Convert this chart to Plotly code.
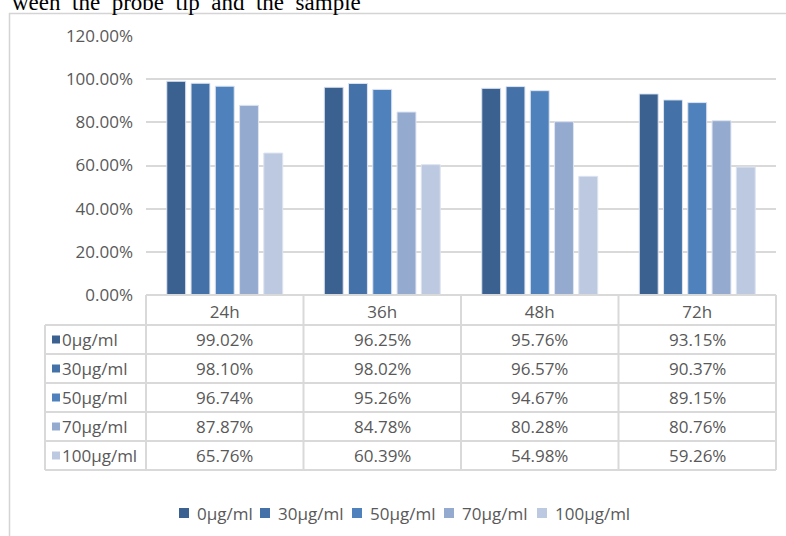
import plotly.graph_objects as go

# Time points and treatment concentrations
times = ["24h", "36h", "48h", "72h"]
concentrations = ["0μg/ml", "30μg/ml", "50μg/ml", "70μg/ml", "100μg/ml"]

# Cell viability (fraction) per concentration, one value per time point
viab_0 = [0.9902, 0.9625, 0.9576, 0.9315]
viab_30 = [0.9810, 0.9802, 0.9657, 0.9037]
viab_50 = [0.9674, 0.9526, 0.9467, 0.8915]
viab_70 = [0.8787, 0.8478, 0.8028, 0.8076]
viab_100 = [0.6576, 0.6039, 0.5498, 0.5926]

series = [viab_0, viab_30, viab_50, viab_70, viab_100]
colors = ["#3B6190", "#4472A8", "#4F81BD", "#94ABCF", "#BDC9E1"]

W, H = 786, 536
PL, PR, PT, PB = 146, 776, 36, 295          # plot area in pixels
TEXT = "#595959"
GRID = "#D9D9D9"
FONT = "Open Sans"
FS = 17


def xp(px):
    return (px - PL) / (PR - PL)


def yp(py):
    return (PB - py) / (PB - PT)


fig = go.Figure()
for name, vals, col in zip(concentrations, series, colors):
    fig.add_trace(go.Bar(
        x=times, y=vals, name=name,
        marker=dict(color=col, line=dict(color="#DDE4F0", width=1)),
    ))

shapes = []
annotations = []

# outer frame of the chart object
shapes.append(dict(type="line", xref="paper", yref="paper",
                   x0=xp(9), x1=xp(800), y0=yp(13.5), y1=yp(13.5),
                   line=dict(color="#D4D4D4", width=1.5)))
shapes.append(dict(type="line", xref="paper", yref="paper",
                   x0=xp(9.5), x1=xp(9.5), y0=yp(13), y1=yp(560),
                   line=dict(color="#D4D4D4", width=1.5)))

# data table beneath the axis
row_edges = [295, 325, 354, 383, 412, 441, 470]
col_edges = [PL + i * (PR - PL) / len(times) for i in range(len(times) + 1)]
left_edge = 45
tl = dict(color=GRID, width=2)
for i, ry in enumerate(row_edges):
    x0 = PL if i == 0 else left_edge
    shapes.append(dict(type="line", xref="paper", yref="paper",
                       x0=xp(x0), x1=xp(PR), y0=yp(ry), y1=yp(ry), line=tl))
for cx in col_edges:
    shapes.append(dict(type="line", xref="paper", yref="paper",
                       x0=xp(cx), x1=xp(cx), y0=yp(row_edges[0]), y1=yp(row_edges[-1]), line=tl))
shapes.append(dict(type="line", xref="paper", yref="paper",
                   x0=xp(left_edge), x1=xp(left_edge), y0=yp(row_edges[1]), y1=yp(row_edges[-1]), line=tl))

for r, (name, vals, col) in enumerate(zip(concentrations, series, colors)):
    top, bot = row_edges[r + 1], row_edges[r + 2]
    mid = (top + bot) / 2
    shapes.append(dict(type="rect", xref="paper", yref="paper",
                       x0=xp(52), x1=xp(60), y0=yp(mid - 4), y1=yp(mid + 4),
                       fillcolor=col, line=dict(width=0)))
    annotations.append(dict(xref="paper", yref="paper", x=xp(60), y=yp(mid),
                            xanchor="left", yanchor="middle", showarrow=False,
                            text=name, font=dict(family=FONT, size=FS, color=TEXT)))
    for t, v in zip(times, vals):
        annotations.append(dict(xref="x", yref="paper", x=t, y=yp(mid),
                                xanchor="center", yanchor="middle", showarrow=False,
                                text=f"{v * 100:.2f}%",
                                font=dict(family=FONT, size=FS, color=TEXT)))

# legend row below the table: swatch + label per series
legend_x = [179, 260, 352, 444, 537]
legend_y = 513
for lx, name, col in zip(legend_x, concentrations, colors):
    shapes.append(dict(type="rect", xref="paper", yref="paper",
                       x0=xp(lx), x1=xp(lx + 10), y0=yp(legend_y - 5), y1=yp(legend_y + 5),
                       fillcolor=col, line=dict(width=0)))
    annotations.append(dict(xref="paper", yref="paper", x=xp(lx + 16), y=yp(legend_y),
                            xanchor="left", yanchor="middle", showarrow=False,
                            text=name, font=dict(family=FONT, size=FS, color=TEXT)))

# caption line of the surrounding document
annotations.append(dict(xref="paper", yref="paper", x=xp(10), y=yp(17),
                        xanchor="left", yanchor="bottom", showarrow=False,
                        text="ween  the  probe  tip  and  the  sample",
                        font=dict(family="Liberation Serif", size=23, color="#000000")))

fig.update_layout(
    width=W, height=H,
    margin=dict(l=PL, r=W - PR, t=PT, b=H - PB, pad=0),
    paper_bgcolor="white", plot_bgcolor="white",
    barmode="group", bargap=0.23, bargroupgap=0.22,
    font=dict(family=FONT, size=FS, color=TEXT),
    shapes=shapes, annotations=annotations,
    showlegend=False,
)
fig.update_xaxes(showgrid=False, showline=False, zeroline=False, ticks="",
                 tickfont=dict(family=FONT, size=FS, color=TEXT),
                 ticklabelstandoff=5)
fig.update_yaxes(range=[0, 1.2], dtick=0.2, tickformat=".2%",
                 showgrid=True, gridcolor=GRID, gridwidth=1.5,
                 zeroline=False, showline=False, ticks="",
                 tickfont=dict(family=FONT, size=FS, color=TEXT),
                 ticklabelstandoff=12)

fig.write_html("out.html")
